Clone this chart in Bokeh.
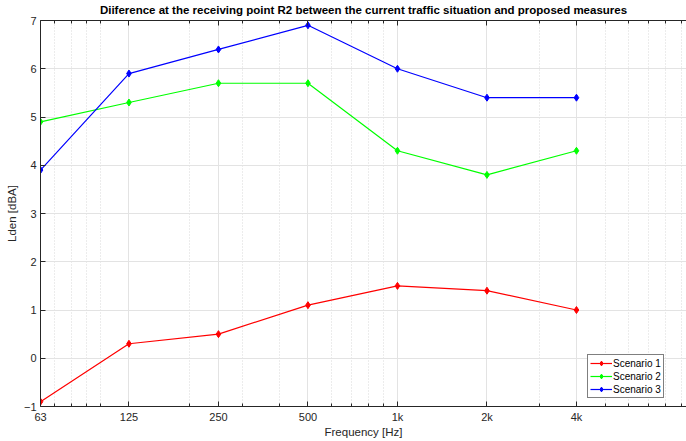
from bokeh.plotting import figure
from bokeh.models import FixedTicker, LogAxis, CustomJSTickFormatter, Legend, LegendItem, CustomLabelingPolicy
from bokeh.embed import file_html
from bokeh.resources import INLINE

freqs = [63, 125, 250, 500, 1000, 2000, 4000]
scenario1 = [-0.9, 0.3, 0.5, 1.1, 1.5, 1.4, 1.0]
scenario2 = [4.9, 5.3, 5.7, 5.7, 4.3, 3.8, 4.3]
scenario3 = [3.9, 5.9, 6.4, 6.9, 6.0, 5.4, 5.4]
minor_freqs = [70, 80, 90, 100, 200, 300, 400, 600, 700, 800, 900,
               3000, 5000, 6000, 7000, 8000, 9000]
y_ticks = [-1, 0, 1, 2, 3, 4, 5, 6, 7]

FONT = "Liberation Sans"
TXT = "#262626"

p = figure(width=686, height=441, x_axis_type="log", x_range=(63, 9380), y_range=(-1, 7),
           output_backend="svg", toolbar_location=None,
           min_border_left=40, min_border_right=0, min_border_top=20, min_border_bottom=35,
           background_fill_color="white", border_fill_color="white")
p.outline_line_color = None

p.title.text = "Diiference at the receiving point R2 between the current traffic situation and proposed measures"
p.title.text_font = FONT
p.title.text_font_size = "11.5px"
p.title.text_font_style = "bold"
p.title.align = "center"
p.title.text_color = "black"
p.title.standoff = 1

xt = FixedTicker(ticks=freqs, minor_ticks=minor_freqs)
fmt = CustomJSTickFormatter(code="return tick >= 1000 ? (tick/1000) + 'k' : tick.toString();")
xa = p.xaxis[0]
xa.ticker = xt
xa.formatter = fmt
xa.axis_label = "Frequency [Hz]"
ya = p.yaxis[0]
ya.ticker = FixedTicker(ticks=y_ticks)
ya.axis_label = "Lden [dBA]"

for ax in (xa, ya):
    ax.axis_label_text_font = FONT
    ax.axis_label_text_font_size = "11.5px"
    ax.axis_label_text_font_style = "normal"
    ax.axis_label_text_color = TXT
    ax.major_label_text_font = FONT
    ax.major_label_text_font_size = "11px"
    ax.major_label_text_color = TXT
    ax.axis_line_color = "#262626"
    ax.major_tick_in = 5
    ax.major_tick_out = 0
    ax.minor_tick_in = 3
    ax.minor_tick_out = 0
    ax.major_tick_line_color = "#262626"
    ax.minor_tick_line_color = "#262626"
ya.minor_tick_line_color = None
xa.major_label_standoff = 4
xa.axis_label_standoff = 0
ya.major_label_standoff = 4
ya.axis_label_standoff = 3

no_labels = CustomLabelingPolicy(code="const a = [...indices]; for (const i of a) indices.unset(i); return indices;")
top = LogAxis(ticker=xt, formatter=fmt, major_label_policy=no_labels,
              major_label_text_font_size="1px", major_label_standoff=0,
              major_tick_in=5, major_tick_out=0,
              minor_tick_in=3, minor_tick_out=0, axis_line_color="#262626",
              major_tick_line_color="#262626", minor_tick_line_color="#262626")
p.add_layout(top, "above")

p.xgrid.ticker = xt
p.xgrid.grid_line_color = "#e3e3e3"
p.xgrid.minor_grid_line_color = "#d8d8d8"
p.xgrid.minor_grid_line_dash = "1 2"
p.ygrid.ticker = FixedTicker(ticks=y_ticks)
p.ygrid.grid_line_color = "#e3e3e3"

items = []
for name, ys, col in [("Scenario 1", scenario1, "#ff0000"),
                      ("Scenario 2", scenario2, "#00ff00"),
                      ("Scenario 3", scenario3, "#0000ff")]:
    l = p.line(freqs, ys, line_color=col, line_width=1.2)
    s = p.scatter(freqs, ys, marker="diamond", size=7, color=col)
    items.append(LegendItem(label=name, renderers=[l, s]))

leg = Legend(items=items, location=(547, 8))
leg.label_text_font = FONT
leg.label_text_font_size = "10px"
leg.label_text_color = "black"
leg.border_line_color = "black"
leg.border_line_width = 1
leg.padding = 2
leg.spacing = 1
leg.margin = 0
leg.glyph_width = 22
leg.glyph_height = 12
leg.label_height = 12
leg.label_standoff = 1
leg.background_fill_alpha = 1
p.add_layout(leg)

open("out.html", "w").write(file_html(p, INLINE))
